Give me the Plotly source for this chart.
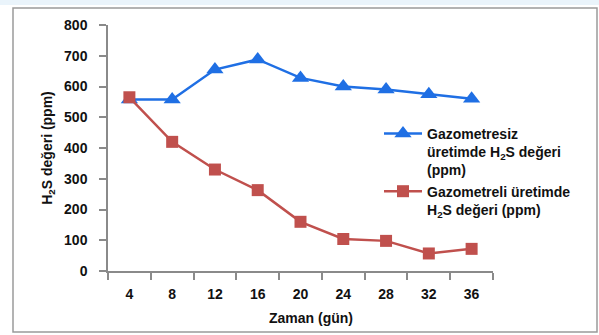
import plotly.graph_objects as go

days = ["4", "8", "12", "16", "20", "24", "28", "32", "36"]
without_meter = [558, 558, 655, 688, 628, 600, 590, 575, 560]
with_meter = [565, 420, 330, 263, 160, 104, 98, 57, 72]
y_ticks = [0, 100, 200, 300, 400, 500, 600, 700, 800]

name_blue = "Gazometresiz<br>üretimde H<sub>2</sub>S değeri<br>(ppm)"
name_red = "Gazometreli üretimde<br>H<sub>2</sub>S değeri (ppm)"

FONT = "Liberation Sans, Arial, sans-serif"
BLUE = "#1f6fe4"
RED = "#c0504d"

W, H = 599, 335
L, R, T, B = 108, 106, 25, 64
pw, ph = W - L - R, H - T - B

def px_x(x):
    return (x - L) / pw

def px_y(y):
    return (H - B - y) / ph

fig = go.Figure()
fig.add_trace(go.Scatter(
    x=days, y=without_meter, name=name_blue, mode="lines+markers",
    line=dict(color=BLUE, width=2.5),
    marker=dict(symbol="triangle-up", size=15, color=BLUE),
))
fig.add_trace(go.Scatter(
    x=days, y=with_meter, name=name_red, mode="lines+markers",
    line=dict(color=RED, width=2.5),
    marker=dict(symbol="square", size=12, color=RED),
))

fig.update_layout(
    width=W, height=H,
    margin=dict(l=L, r=R, t=T, b=B, pad=0),
    paper_bgcolor="white", plot_bgcolor="white",
    font=dict(family=FONT, size=14, color="#111", weight=700),
    showlegend=True,
    legend=dict(
        x=px_x(379), y=px_y(118), xanchor="left", yanchor="top",
        bgcolor="rgba(0,0,0,0)", font=dict(family=FONT, size=14, color="#111", weight=700),
        itemwidth=38, valign="top", tracegroupgap=2,
    ),
    xaxis=dict(
        type="category", categoryorder="array", categoryarray=days,
        range=[-0.5, 8.5], showgrid=False, zeroline=False,
        showline=True, linecolor="#8a8a8a", linewidth=1.5,
        ticks="outside", ticklen=7, tickcolor="#8a8a8a", tickwidth=1.5,
        tickson="boundaries", ticklabelstandoff=9,
        tickfont=dict(family=FONT, size=14, color="#111", weight=700),
    ),
    yaxis=dict(
        range=[0, 800], tickvals=y_ticks, showgrid=False, zeroline=False,
        showline=True, linecolor="#8a8a8a", linewidth=1.5,
        ticks="outside", ticklen=7, tickcolor="#8a8a8a", tickwidth=1.5,
        ticklabelstandoff=9,
        tickfont=dict(family=FONT, size=14, color="#111", weight=700),
        title=dict(text="H<sub>2</sub>S değeri (ppm)", standoff=8,
                   font=dict(family=FONT, size=14, color="#111", weight=700)),
    ),
    annotations=[dict(
        text="Zaman (gün)", x=px_x(311), y=px_y(318), xref="paper", yref="paper",
        showarrow=False, xanchor="center", yanchor="middle",
        font=dict(family=FONT, size=14, color="#111", weight=700),
    )],
    shapes=[
        dict(type="rect", xref="paper", yref="paper",
             x0=px_x(0), x1=px_x(W), y0=px_y(0), y1=px_y(5),
             fillcolor="#eaf4fb", line=dict(width=0), layer="below"),
        dict(type="rect", xref="paper", yref="paper",
             x0=px_x(13), x1=px_x(597), y0=px_y(332), y1=px_y(8),
             line=dict(color="#9a9a9a", width=1.5), layer="below"),
    ],
)

fig.write_html("out.html")
